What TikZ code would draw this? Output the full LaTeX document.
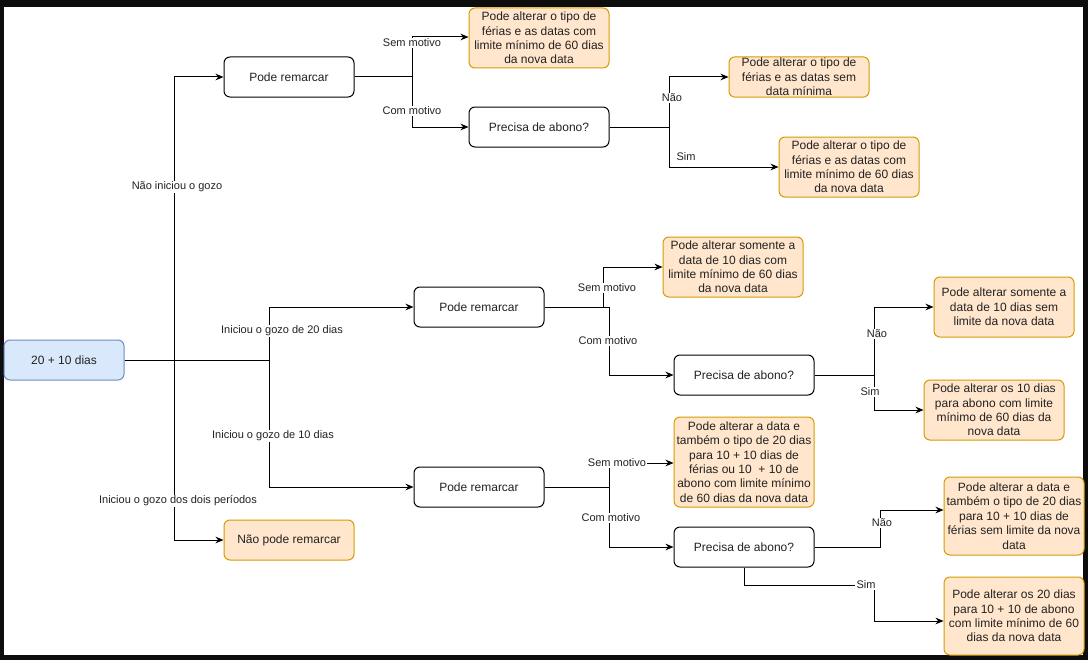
\documentclass[tikz,border=0pt]{standalone}
\usepackage{fontspec}
\setmainfont{Liberation Sans}
\usetikzlibrary{arrows.meta}

\definecolor{startfill}{HTML}{DAE8FC}
\definecolor{startline}{HTML}{6C8EBF}
\definecolor{leaffill}{HTML}{FFE6CC}
\definecolor{leafline}{HTML}{D79B00}
\definecolor{txt}{HTML}{222222}

\tikzset{
  box/.style={draw=black, fill=white, rounded corners=4.5pt, line width=0.75pt,
    minimum width=97.5pt, minimum height=30pt, align=center, text=txt,
    font=\fontsize{9}{10.8}\selectfont, inner sep=1pt},
  startbox/.style={box, fill=startfill, draw=startline, minimum width=90pt},
  leaf/.style={box, fill=leaffill, draw=leafline, minimum width=105pt},
  qbox/.style={box, minimum width=105pt},
  lbl/.style={fill=white, inner sep=0.8pt, text=txt, font=\fontsize{8.25}{10}\selectfont},
  arr/.style={-{Stealth[length=6pt,width=5pt]}, line width=0.75pt},
}

\begin{document}
\begin{tikzpicture}[x=0.75pt, y=-0.75pt]
    % Frame
    \fill[black!95] (0,0) rectangle (1088,660);
    \fill[white] (4,7) rectangle (1083,655);
    \useasboundingbox (0,0) rectangle (1088,660);

    % Nodes
    \node[startbox] (start) at (64,360) {20 + 10 dias};

    \node[box] (pr1) at (289,77) {Pode remarcar};
    \node[box] (pr2) at (479,307) {Pode remarcar};
    \node[box] (pr3) at (479,487) {Pode remarcar};
    \node[leaf, minimum width=97.5pt] (nope) at (289,540) {Não pode remarcar};

    \node[qbox] (ab1) at (539,127) {Precisa de abono?};
    \node[qbox] (ab2) at (744,375) {Precisa de abono?};
    \node[qbox] (ab3) at (744,547) {Precisa de abono?};

    \node[leaf, minimum height=45pt] (alt1) at (539,38)
        {Pode alterar o tipo de\\férias e as datas com\\limite mínimo de 60 dias\\da nova data};
    \node[leaf] (alt2) at (799,77)
        {Pode alterar o tipo de\\férias e as datas sem\\data mínima};
    \node[leaf, minimum height=45pt] (alt3) at (849,167)
        {Pode alterar o tipo de\\férias e as datas com\\limite mínimo de 60 dias\\da nova data};
    \node[leaf, minimum height=45pt] (alt4) at (733,267)
        {Pode alterar somente a\\data de 10 dias com\\limite mínimo de 60 dias\\da nova data};
    \node[leaf, minimum height=45pt] (alt5) at (1004,307)
        {Pode alterar somente a\\data de 10 dias sem\\limite da nova data};
    \node[leaf, minimum height=45pt] (alt6) at (994,410)
        {Pode alterar os 10 dias\\para abono com limite\\mínimo de 60 dias da\\nova data};
    \node[leaf, minimum height=67.5pt] (alt7) at (744,462)
        {Pode alterar a data e\\também o tipo de 20 dias\\para 10 + 10 dias de\\férias ou 10~ + 10 de\\abono com limite mínimo\\de 60 dias da nova data};
    \node[leaf, minimum height=58.5pt] (alt8) at (1014,516)
        {Pode alterar a data e\\também o tipo de 20 dias\\para 10 + 10 dias de\\férias sem limite da nova\\data};
    \node[leaf, minimum height=58.5pt] (alt9) at (1014,616)
        {Pode alterar os 20 dias\\para 10 + 10 de abono\\com limite mínimo de 60\\dias da nova data};

    % Connectors
    \draw[arr] (start.east) -- ++(50,0) |- (pr1.west);
    \draw[arr] (start.east) -- ++(145,0) |- (pr2.west);
    \draw[arr] (start.east) -- ++(145,0) |- (pr3.west);
    \draw[arr] (start.east) -- ++(50,0) |- (nope.west);

    \draw[arr] (pr1.east) -- ++(58,0) |- ([yshift=0.75pt]alt1.west);
    \draw[arr] (pr1.east) -- ++(58,0) |- (ab1.west);
    \draw[arr] (ab1.east) -- ++(60,0) |- (alt2.west);
    \draw[arr] (ab1.east) -- ++(60,0) |- (alt3.west);

    \draw[arr] (pr2.east) -- ++(59,0) |- (alt4.west);
    \draw[arr] (pr2.east) -- ++(65,0) |- (ab2.west);
    \draw[arr] (ab2.east) -- ++(60,0) |- (alt5.west);
    \draw[arr] (ab2.east) -- ++(60,0) |- (alt6.west);

    \draw[arr] (pr3.east) -- ++(65,0) |- ([yshift=-0.75pt]alt7.west);
    \draw[arr] (pr3.east) -- ++(65,0) |- (ab3.west);
    \draw[arr] (ab3.east) -- ++(66,0) |- ([yshift=4.5pt]alt8.west);
    \draw[arr] (ab3.south) -- ++(0,18) -- ++(130,0) |- ([yshift=-3.75pt]alt9.west);

    % Labels
    \node[lbl] (l1) at (177,187) {Não iniciou o gozo};
    \node[lbl] (l2) at (282,331) {Iniciou o gozo de 20 dias};
    \node[lbl] (l3) at (273,436) {Iniciou o gozo de 10 dias};
    \node[lbl] (l4) at (178,501) {Iniciou o gozo dos dois períodos};
    \node[lbl] (l5) at (412,43) {Sem motivo};
    \node[lbl] (l6) at (412,111) {Com motivo};
    \node[lbl] (l7) at (672,98) {Não};
    \node[lbl] (l8) at (686,157) {Sim};
    \node[lbl] (l9) at (607,288) {Sem motivo};
    \node[lbl] (l10) at (608,341) {Com motivo};
    \node[lbl] (l11) at (877,334) {Não};
    \node[lbl] (l12) at (870,392) {Sim};
    \node[lbl] (l13) at (617,463) {Sem motivo};
    \node[lbl] (l14) at (611,518) {Com motivo};
    \node[lbl] (l15) at (882,523) {Não};
    \node[lbl] (l16) at (866,585) {Sim};
\end{tikzpicture}
\end{document}
